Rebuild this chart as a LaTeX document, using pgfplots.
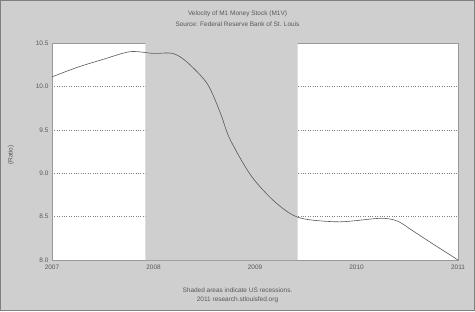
\documentclass[border=0pt]{standalone}
\usepackage{pgfplots}
\pgfplotsset{compat=1.18}
\usepackage{fontspec}
\setmainfont{Liberation Sans}
\begin{document}
\begin{tikzpicture}[x=1bp,y=1bp]
\fill[black!19] (0,0) rectangle (475,311);
\draw[black!50, line width=0.6bp] (0.5,0.5) rectangle (474.5,310.5);
\useasboundingbox (0,0) rectangle (475,311);
\node[font=\fontsize{6.5}{7}\selectfont, text=black!65] at (237.5,297) {Velocity of M1 Money Stock (M1V)};
\node[font=\fontsize{6.5}{7}\selectfont, text=black!65] at (237.5,287) {Source: Federal Reserve Bank of St. Louis};
\node[font=\fontsize{6.5}{7}\selectfont, text=black!65] at (237.5,21) {Shaded areas indicate US recessions.};
\node[font=\fontsize{6.5}{7}\selectfont, text=black!65] at (237.5,11) {2011 research.stlouisfed.org};
\node[font=\fontsize{6.5}{7}\selectfont, text=black!65, rotate=90] at (11,156) {(Ratio)};
\begin{axis}[at={(52bp,51bp)}, anchor=south west, scale only axis,
  width=406bp, height=217bp,
  xmin=2007, xmax=2011, ymin=8, ymax=10.5,
  xtick={2007,2008,2009,2010,2011},
  xticklabels={2007,2008,2009,2010,2011},
  ytick={8,8.5,9,9.5,10,10.5},
  yticklabels={8.0,8.5,9.0,9.5,10.0,10.5},
  /pgf/number format/assume math mode=true,
  tick label style={font=\fontsize{6.5}{7}\selectfont, text=black!65},
  xticklabel style={yshift=-1bp},
  axis background/.style={fill=white},
  axis line style={draw=black!40},
  tick style={draw=none},
  ymajorgrids, grid style={dotted, black!50, line width=0.4bp},
  clip=true]
\addplot[fill=black!19, draw=none] coordinates {(2007.92,8) (2009.42,8) (2009.42,10.5) (2007.92,10.5)} \closedcycle;
\addplot[black!65, line width=0.6bp, smooth, tension=0.5] coordinates {
(2007.00,10.11)
(2007.25,10.22)
(2007.50,10.31)
(2007.77,10.40)
(2008.00,10.38)
(2008.19,10.38)
(2008.33,10.28)
(2008.53,10.03)
(2008.66,9.69)
(2008.75,9.40)
(2008.95,8.99)
(2009.15,8.72)
(2009.34,8.54)
(2009.50,8.47)
(2009.84,8.44)
(2010.23,8.48)
(2010.40,8.45)
(2010.55,8.34)
(2010.72,8.21)
(2011.00,8.00)
};
\end{axis}
\end{tikzpicture}
\end{document}
